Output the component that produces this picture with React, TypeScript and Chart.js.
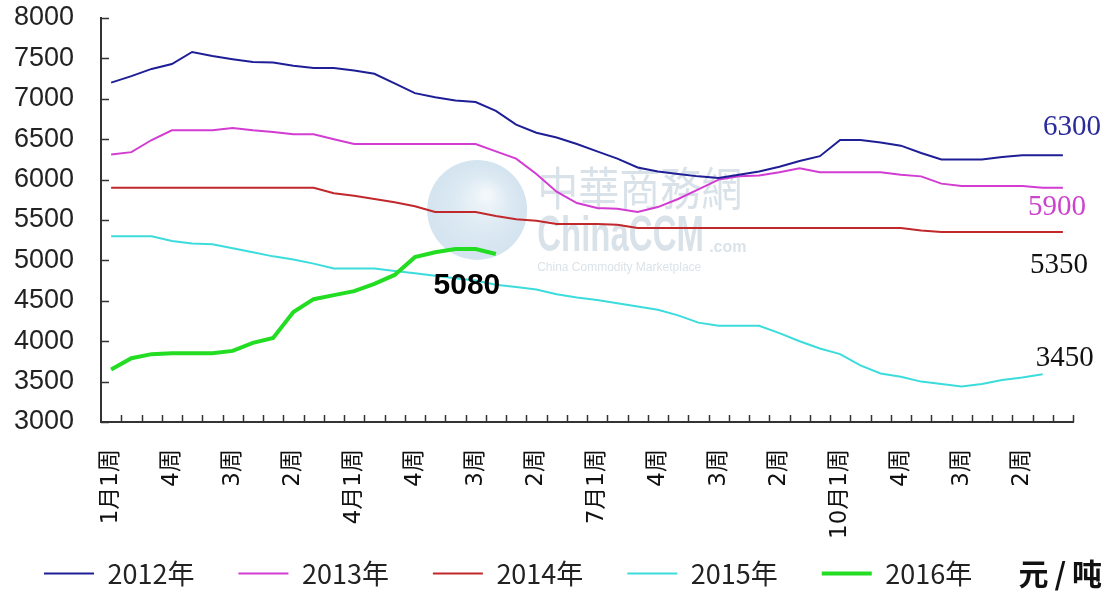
import React, { useEffect, useRef } from 'react';
import { Chart, registerables } from 'chart.js';

Chart.register(...registerables);

// ---------- data ----------
const categories = [
  '1月1周', '2周', '3周', '4周',
  '2月1周', '2周', '3周', '4周',
  '3月1周', '2周', '3周', '4周',
  '4月1周', '2周', '3周', '4周',
  '5月1周', '2周', '3周', '4周',
  '6月1周', '2周', '3周', '4周',
  '7月1周', '2周', '3周', '4周',
  '8月1周', '2周', '3周', '4周',
  '9月1周', '2周', '3周', '4周',
  '10月1周', '2周', '3周', '4周',
  '11月1周', '2周', '3周', '4周',
  '12月1周', '2周', '3周', '4周',
];

const seriesNames = ['2012年', '2013年', '2014年', '2015年', '2016年'];

const s2012 = [
  7200, 7280, 7370, 7430, 7580, 7530, 7490, 7455, 7450, 7410,
  7380, 7380, 7350, 7310, 7190, 7070, 7020, 6980, 6960, 6850,
  6680, 6580, 6520, 6440, 6350, 6260, 6150, 6100, 6070, 6040,
  6020, 6060, 6100, 6160, 6230, 6290, 6490, 6490, 6460, 6420,
  6330, 6250, 6250, 6250, 6280, 6300, 6300, 6300,
];

const s2013 = [
  6310, 6340, 6490, 6610, 6610, 6610, 6640, 6610, 6590, 6560,
  6560, 6500, 6440, 6440, 6440, 6440, 6440, 6440, 6440, 6350,
  6260, 6070, 5850, 5710, 5650, 5640, 5600, 5660, 5760, 5880,
  6000, 6040, 6050, 6090, 6140, 6090, 6090, 6090, 6090, 6060,
  6040, 5950, 5920, 5920, 5920, 5920, 5900, 5900,
];

const s2014 = [
  5900, 5900, 5900, 5900, 5900, 5900, 5900, 5900, 5900, 5900,
  5900, 5830, 5800, 5760, 5720, 5670, 5600, 5600, 5600, 5550,
  5510, 5490, 5450, 5450, 5450, 5440, 5400, 5400, 5400, 5400,
  5400, 5400, 5400, 5400, 5400, 5400, 5400, 5400, 5400, 5400,
  5370, 5350, 5350, 5350, 5350, 5350, 5350, 5350,
];

const s2015 = [
  5300, 5300, 5300, 5240, 5210, 5200, 5150, 5100, 5050, 5010,
  4960, 4900, 4900, 4900, 4870, 4840, 4810, 4780, 4750, 4700,
  4670, 4640, 4580, 4540, 4510, 4470, 4430, 4390, 4320, 4230,
  4190, 4190, 4190, 4100, 4000, 3910, 3840, 3700, 3600, 3560,
  3500, 3470, 3440, 3470, 3520, 3550, 3590,
];

const s2016 = [
  3650, 3790, 3840, 3850, 3850, 3850, 3880, 3980, 4040, 4360,
  4520, 4570, 4620, 4710, 4820, 5040, 5100, 5140, 5140, 5080,
];

const yTicks = [3000, 3500, 4000, 4500, 5000, 5500, 6000, 6500, 7000, 7500, 8000];

const endLabels = ['6300', '5900', '5350', '3450', '5080'];
const unitLabel = '元/吨';
const watermarkTexts = ['中華商務網', 'ChinaCCM', '.com', 'China Commodity Marketplace'];

// ---------- styles ----------
const seriesColors = ['#1e1e96', '#d23cd2', '#c0282c', '#3cdcdc', '#22dd22'];
const seriesWidths = [2, 2, 2, 2, 4];
const seriesOrder = [1, 2, 3, 4, 0];

const endLabelStyles = [
  { dx: 9, dy: -28, color: '#2a2a9a', font: '29px "Liberation Serif", serif' },
  { dx: -6, dy: 20, color: '#cc44cc', font: '29px "Liberation Serif", serif' },
  { dx: -4, dy: 33, color: '#111111', font: '29px "Liberation Serif", serif' },
  { dx: 22, dy: -16, color: '#111111', font: '29px "Liberation Serif", serif' },
  { dx: -29, dy: 32, color: '#000000', font: 'bold 30px "Liberation Sans", sans-serif' },
];

const watermarkPlugin = {
  id: 'watermark',
  beforeDatasetsDraw(chart: any) {
    const { ctx, chartArea: a } = chart;
    const gx = a.left + a.width * 0.387;
    const gy = a.top + a.height * 0.475;
    ctx.save();
    const g = ctx.createRadialGradient(gx + 10, gy - 15, 4, gx, gy, 50);
    g.addColorStop(0, 'rgba(240,246,250,0.85)');
    g.addColorStop(1, 'rgba(170,202,225,0.5)');
    ctx.fillStyle = g;
    ctx.beginPath();
    ctx.arc(gx, gy, 50, 0, Math.PI * 2);
    ctx.fill();
    ctx.fillStyle = 'rgba(120,150,175,0.28)';
    ctx.textAlign = 'left';
    ctx.textBaseline = 'middle';
    ctx.save();
    ctx.translate(gx + 60, gy - 22);
    ctx.scale(1, 1.12);
    ctx.font = '41px "Noto Sans CJK TC", sans-serif';
    ctx.fillText(watermarkTexts[0], 0, 0);
    ctx.restore();
    ctx.save();
    ctx.translate(gx + 60, gy + 27);
    ctx.scale(1, 1.5);
    ctx.font = 'bold 33px "Liberation Sans", sans-serif';
    ctx.fillText(watermarkTexts[1], 0, 0);
    ctx.restore();
    ctx.font = 'bold 16px "Liberation Sans", sans-serif';
    ctx.fillText(watermarkTexts[2], gx + 232, gy + 38);
    ctx.font = '12px "Liberation Sans", sans-serif';
    ctx.fillText(watermarkTexts[3], gx + 60, gy + 58);
    ctx.restore();
  },
};

const innerTicksPlugin = {
  id: 'innerTicks',
  afterDatasetsDraw(chart: any) {
    const { ctx, chartArea: a, scales } = chart;
    const x = scales.x;
    const y = scales.y;
    ctx.save();
    ctx.strokeStyle = '#333333';
    ctx.lineWidth = 1.5;
    y.ticks.forEach((t: any) => {
      const py = Math.round(y.getPixelForValue(t.value)) + 0.5;
      ctx.beginPath();
      ctx.moveTo(a.left, py);
      ctx.lineTo(a.left + 8, py);
      ctx.stroke();
    });
    for (let i = 1; i <= categories.length; i++) {
      const px = Math.round(x.getPixelForValue(i - 0.5)) + 0.5;
      ctx.beginPath();
      ctx.moveTo(px, a.bottom);
      ctx.lineTo(px, a.bottom - 7);
      ctx.stroke();
    }
    ctx.restore();
  },
};

const annotationsPlugin = {
  id: 'endAnnotations',
  afterDatasetsDraw(chart: any) {
    const { ctx } = chart;
    ctx.save();
    ctx.textAlign = 'center';
    ctx.textBaseline = 'middle';
    endLabelStyles.forEach((st, i) => {
      const pts = chart.getDatasetMeta(i).data;
      const p = pts[pts.length - 1];
      if (!p) return;
      ctx.font = st.font;
      ctx.fillStyle = st.color;
      ctx.fillText(endLabels[i], p.x + st.dx, p.y + st.dy);
    });
    const lg = chart.legend;
    if (lg && lg.legendHitBoxes && lg.legendHitBoxes.length) {
      const hb = lg.legendHitBoxes[0];
      ctx.font = 'bold 30px "Noto Sans CJK SC", sans-serif';
      ctx.fillStyle = '#111111';
      ctx.textAlign = 'right';
      (ctx as any).letterSpacing = '6px';
      ctx.fillText(unitLabel, chart.width - 2, hb.top + hb.height / 2);
    }
    ctx.restore();
  },
};

export default function App() {
  const ref = useRef<HTMLCanvasElement>(null);

  useEffect(() => {
    if (!ref.current) return;
    const seriesData = [s2012, s2013, s2014, s2015, s2016];
    const chart = new Chart(ref.current, {
      type: 'line',
      data: {
        labels: categories,
        datasets: seriesNames.map((name, i) => ({
          label: name,
          data: seriesData[i],
          borderColor: seriesColors[i],
          backgroundColor: seriesColors[i],
          borderWidth: seriesWidths[i],
          pointRadius: 0,
          pointHoverRadius: 0,
          tension: 0,
          fill: false,
          order: seriesOrder[i],
        })),
      },
      options: {
        animation: false,
        responsive: false,
        maintainAspectRatio: false,
        events: [],
        layout: { padding: { left: 0, right: 37, top: 18, bottom: -4 } },
        plugins: {
          legend: {
            position: 'bottom',
            align: 'start',
            labels: {
              usePointStyle: true,
              pointStyle: 'line',
              pointStyleWidth: 50,
              padding: 44,
              color: '#222222',
              font: { family: '"Noto Sans CJK SC", sans-serif', size: 27 },
              sort: (a: any, b: any) => a.datasetIndex - b.datasetIndex,
            },
          },
          tooltip: { enabled: false },
        },
        scales: {
          x: {
            type: 'category',
            offset: true,
            grid: { display: false, drawTicks: true, tickLength: 27, offset: true },
            border: { display: true, color: '#333333', width: 2 },
            ticks: {
              autoSkip: false,
              minRotation: 90,
              maxRotation: 90,
              padding: 0,
              color: '#111111',
              font: { family: '"DejaVu Sans", "Noto Sans CJK SC", sans-serif', size: 23 },
              callback: (_v: any, i: number) => (i % 3 === 0 ? categories[i] : ''),
            },
            afterFit: (s: any) => {
              s.height = 94;
              s._computeLabelArea = () => undefined;
            },
          },
          y: {
            min: 3000,
            max: 8000,
            grid: { display: false, drawTicks: true, tickLength: 27 },
            border: { display: true, color: '#333333', width: 2 },
            ticks: {
              padding: 0,
              color: '#222222',
              font: { family: '"Liberation Sans", sans-serif', size: 27 },
              callback: (v: any) => String(v),
            },
            afterBuildTicks: (s: any) => {
              s.ticks = yTicks.map((v) => ({ value: v }));
            },
            afterFit: (s: any) => {
              s.width = 101;
              s._computeLabelArea = () => undefined;
            },
          },
        },
      },
      plugins: [watermarkPlugin, innerTicksPlugin, annotationsPlugin],
    } as any);
    return () => chart.destroy();
  }, []);

  return (
    <div style={{ position: 'absolute', left: 0, top: 0, width: 1110, height: 593, background: '#ffffff' }}>
      <canvas ref={ref} width={1110} height={593} style={{ display: 'block' }} />
    </div>
  );
}
